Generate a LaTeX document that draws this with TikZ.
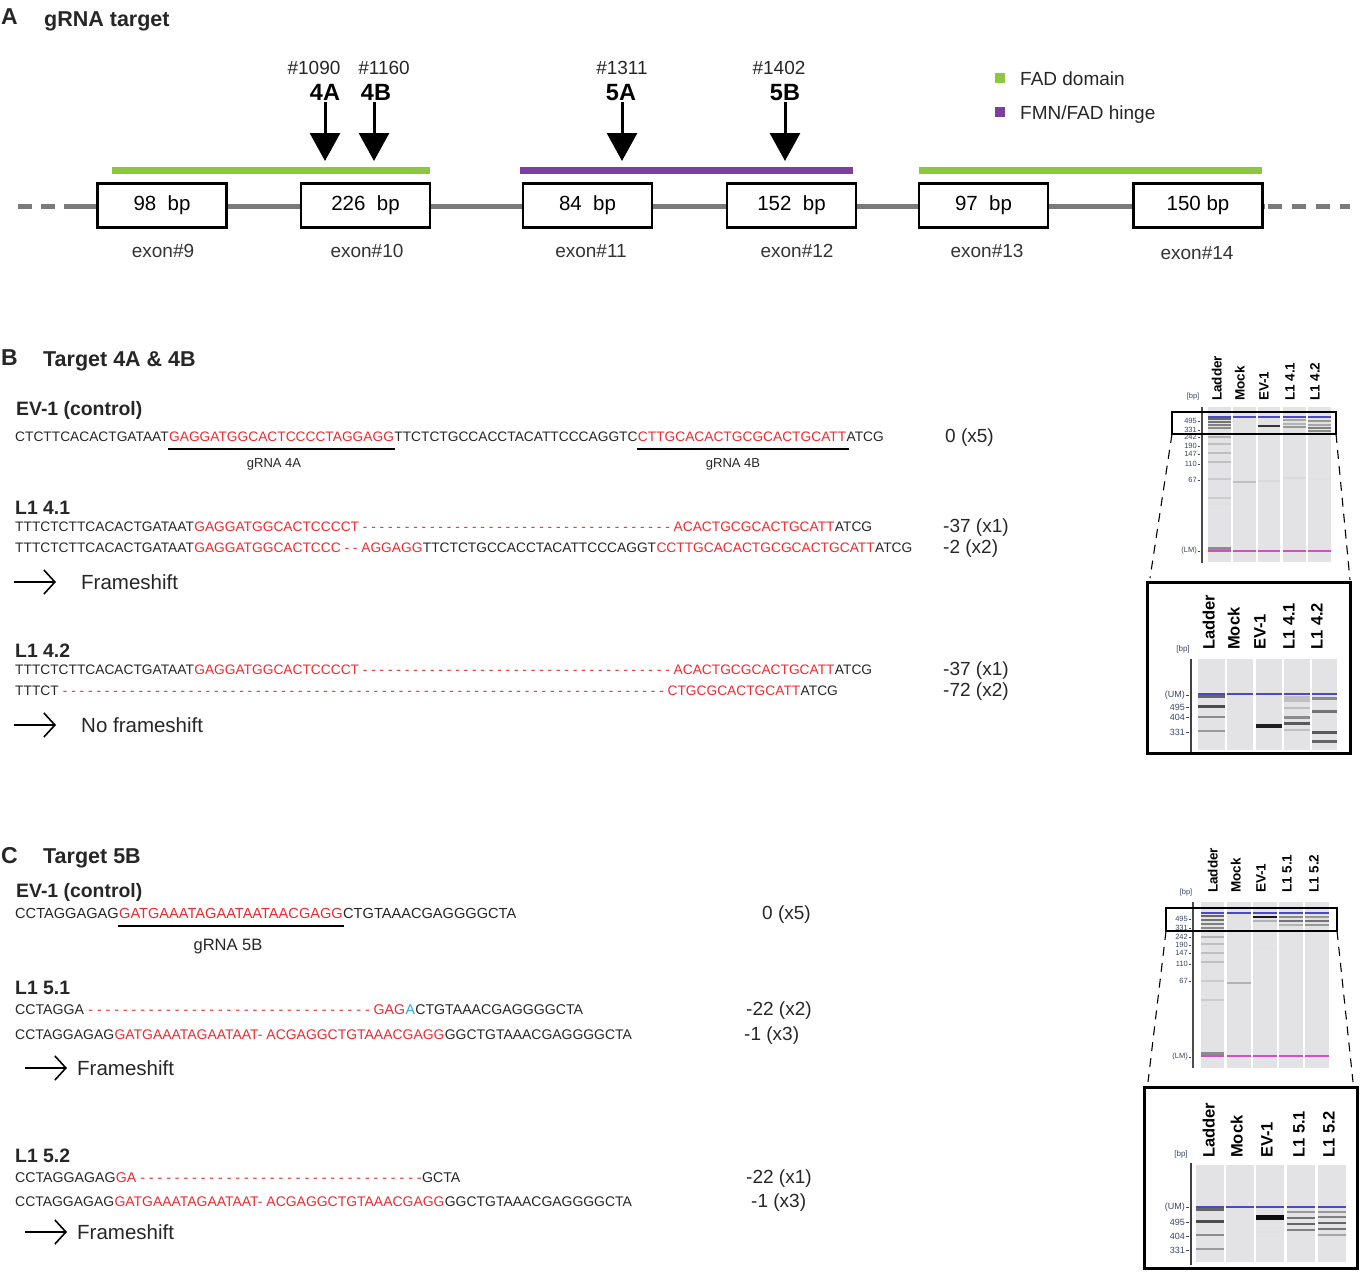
\documentclass[tikz,border=0pt]{standalone}
\usepackage{fontspec}
\setmainfont{Liberation Sans}
\usetikzlibrary{arrows.meta,calc}
\definecolor{seqred}{HTML}{EE2A2F}
\definecolor{seqblue}{HTML}{29A8E0}
\definecolor{fadgreen}{HTML}{8DC63F}
\definecolor{hingepurple}{HTML}{7B3FA0}
\definecolor{bbgray}{HTML}{7A7A7A}
\definecolor{lanegray}{HTML}{E3E3E5}
\definecolor{umblue}{HTML}{4A4AC8}
\definecolor{lmmag}{HTML}{D24FC4}
\definecolor{tickcol}{HTML}{3B4660}
\definecolor{txtgray}{HTML}{333333}
\newcount\dashcnt
\newcommand\dashrun[1]{\dashcnt=#1\relax\loop\ifnum\dashcnt>0 -\ \advance\dashcnt by -1\repeat}
\newcommand\fsz[1]{\fontsize{#1}{#1}\selectfont}
\newcommand\bnd[5]{\draw[line width=#5pt,#4] (#1,#3)--(#2,#3);}
\tikzset{
  seqB/.style={anchor=base west, inner sep=0pt, font=\fsz{13.75}, text=black!85},
  seqC/.style={anchor=base west, inner sep=0pt, font=\fsz{14.15}, text=black!85},
  seqCa/.style={anchor=base west, inner sep=0pt, font=\fsz{14.6}, text=black!85},
  seqCb/.style={anchor=base west, inner sep=0pt, font=\fsz{13.95}, text=black!85},
  rd/.style={text=seqred},
  bl/.style={text=seqblue},
  lbl/.style={anchor=base west, inner sep=0pt, text=black!85},
  head/.style={lbl, font=\bfseries\fsz{21.5}},
  letter/.style={lbl, font=\bfseries\fsz{23}},
  sub/.style={lbl, font=\bfseries\fsz{19.4}},
  cnt/.style={lbl, font=\fsz{19}},
  fs/.style={lbl, font=\fsz{20.5}},
  fsarrow/.style={line width=1.6pt, -{Straight Barb[length=11pt,width=24pt,line width=1.6pt]}},
  exon/.style={draw=black, line width=2.5pt, fill=white, minimum width=129pt, minimum height=44pt, inner sep=0pt, font=\fsz{20.5}},
  exlab/.style={anchor=base, inner sep=0pt, font=\fsz{19}, text=txtgray},
  hit/.style={line width=3pt, -{Triangle[width=30pt,length=28pt]}},
  poslab/.style={anchor=base, inner sep=0pt, font=\fsz{19}, text=black!85},
  sitelab/.style={anchor=base, inner sep=2pt, font=\bfseries\fsz{23.5}},
  tick/.style={anchor=east, inner sep=0pt, font=\fsz{7.5}, text=tickcol},
  tickz/.style={anchor=east, inner sep=0pt, font=\fsz{9}, text=tickcol},
  lane/.style={rotate=90, anchor=mid west, inner sep=0pt, font=\bfseries\fsz{13.5}},
  lanez/.style={rotate=90, anchor=mid west, inner sep=0pt, font=\bfseries\fsz{16.5}},
  gdash/.style={dash pattern=on 9pt off 7pt, line width=1.1pt},
}
\begin{document}
\begin{tikzpicture}[x=1pt,y=-1pt]
\useasboundingbox (0,0) rectangle (1365,1275);
% ================= A =================
\node[letter] (LA) at (1,24) {A};
\node[head] (HA) at (44,26) {gRNA target};
% backbone
\draw[bbgray, line width=5pt, dash pattern=on 14pt off 9pt] (18,206) -- (97,206);
\draw[bbgray, line width=5pt] (75,206) -- (1265,206);
\draw[bbgray, line width=5pt, dash pattern=on 14pt off 10pt] (1268,206) -- (1350,206);
% domain bars
\draw[fadgreen, line width=7pt] (112,170) -- (430,170);
\draw[hingepurple, line width=7pt] (520,170) -- (853,170);
\draw[fadgreen, line width=7pt] (919,170) -- (1262,170);
% exons
\node[exon] (x9)  at (162,205.5)  {98\ \ bp};
\node[exon] (x10) at (365.5,205.5) {226\ \ bp};
\node[exon] (x11) at (587.5,205.5) {84\ \ bp};
\node[exon] (x12) at (791.5,205.5) {152\ \ bp};
\node[exon] (x13) at (983.5,205.5) {97\ \ bp};
\node[exon] (x14) at (1198,205.5) {150 bp};
\node[exlab] (l9)  at (163,257) {exon\#9};
\node[exlab] (l10) at (367,257) {exon\#10};
\node[exlab] (l11) at (591,257) {exon\#11};
\node[exlab] (l12) at (797,257) {exon\#12};
\node[exlab] (l13) at (987,257) {exon\#13};
\node[exlab] (l14) at (1197,259) {exon\#14};
% target sites
\node[poslab] (p1090) at (314,74) {\#1090};
\node[poslab] (p1160) at (384,74) {\#1160};
\node[poslab] (p1311) at (622,74) {\#1311};
\node[poslab] (p1402) at (779,74) {\#1402};
\node[sitelab] (s4A) at (325,100) {4A};
\node[sitelab] (s4B) at (376,100) {4B};
\node[sitelab] (s5A) at (621,100) {5A};
\node[sitelab] (s5B) at (785,100) {5B};
\coordinate (e4A) at (325,161);
\coordinate (e4B) at (374,161);
\coordinate (e5A) at (622,161);
\coordinate (e5B) at (785,161);
\draw[hit] (s4A.south -| e4A) -- (e4A);
\draw[hit] (s4B.south -| e4B) -- (e4B);
\draw[hit] (s5A.south -| e5A) -- (e5A);
\draw[hit] (s5B.south -| e5B) -- (e5B);
% legend
\fill[fadgreen] (995,73) rectangle (1005,83);
\node[cnt] (lg1) at (1020,85) {FAD domain};
\fill[hingepurple] (995,107) rectangle (1005,117);
\node[cnt] (lg2) at (1020,119) {FMN/FAD hinge};
% ================= B =================
\node[letter] (LB) at (1,365) {B};
\node[head] (HB) at (43,366) {Target 4A \& 4B};
\node[sub] (evB) at (16,415) {EV-1 (control)};
\node[seqB] (b1) at (15,441) {CTCTTCACACTGATAAT};
\node[seqB,rd] (b2) at (b1.base east) {GAGGATGGCACTCCCCTAGGAGG};
\node[seqB] (b3) at (b2.base east) {TTCTCTGCCACCTACATTCCCAGGTC};
\node[seqB,rd] (b4) at (b3.base east) {CTTGCACACTGCGCACTGCATT};
\node[seqB] (b5) at (b4.base east) {ATCG};
\draw[line width=2pt] ($(b2.base west)+(-1,8)$) -- ($(b2.base east)+(1,8)$);
\draw[line width=2pt] ($(b4.base west)+(-1,8)$) -- ($(b4.base east)+(3,8)$);
\node[anchor=base, inner sep=0pt, font=\fsz{13}, text=black!85] (g4a) at (274,467) {gRNA 4A};
\node[anchor=base, inner sep=0pt, font=\fsz{13}, text=black!85] (g4b) at (733,467) {gRNA 4B};
\node[cnt] (cB0) at (945,442) {0 (x5)};
% L1 4.1
\node[sub] (l41) at (15,514) {L1 4.1};
\node[seqB] (c1) at (15,531) {TTTCTCTTCACACTGATAAT};
\node[seqB,rd] (c2) at (c1.base east) {GAGGATGGCACTCCCCT\ \dashrun{37}ACACTGCGCACTGCATT};
\node[seqB] (c3) at (c2.base east) {ATCG};
\node[seqB] (d1) at (15,552) {TTTCTCTTCACACTGATAAT};
\node[seqB,rd] (d2) at (d1.base east) {GAGGATGGCACTCCC\ -\ -\ AGGAGG};
\node[seqB] (d3) at (d2.base east) {TTCTCTGCCACCTACATTCCCAGGT};
\node[seqB,rd] (d4) at (d3.base east) {CCTTGCACACTGCGCACTGCATT};
\node[seqB] (d5) at (d4.base east) {ATCG};
\node[cnt] (cB1) at (943,532) {-37 (x1)};
\node[cnt] (cB2) at (943,553) {-2 (x2)};
\node[fs] (fsB1) at (81,589) {Frameshift};
\coordinate (aB1s) at (14,582); \coordinate (aB1e) at (56,582);
\draw[fsarrow] (aB1s) -- (aB1e);
% L1 4.2
\node[sub] (l42) at (15,657) {L1 4.2};
\node[seqB] (e1) at (15,674) {TTTCTCTTCACACTGATAAT};
\node[seqB,rd] (e2) at (e1.base east) {GAGGATGGCACTCCCCT\ \dashrun{37}ACACTGCGCACTGCATT};
\node[seqB] (e3) at (e2.base east) {ATCG};
\node[seqB] (f1) at (15,695) {TTTCT};
\node[seqB,rd] (f2) at (f1.base east) {\ \dashrun{72}CTGCGCACTGCATT};
\node[seqB] (f3) at (f2.base east) {ATCG};
\node[cnt] (cB3) at (943,675) {-37 (x1)};
\node[cnt] (cB4) at (943,696) {-72 (x2)};
\node[fs] (fsB2) at (81,732) {No frameshift};
\coordinate (aB2s) at (14,725); \coordinate (aB2e) at (56,725);
\draw[fsarrow] (aB2s) -- (aB2e);
% ---- gel B top ----
\foreach \a/\b in {1208/1231,1233/1256,1258/1280,1283/1306,1308/1331} \fill[lanegray] (\a,407) rectangle (\b,562);
\draw[line width=1.4pt, black!70] (1202,407) -- (1202,563);
\foreach \y/\t in {421/495,430/331,437/242,446/190,454/147,464/110,480/67,551/{(LM)}} {
  \draw[tickcol, line width=0.6pt] (1197.5,\y)--(1200,\y);
  \node[tick] (tb\y) at (1197,\y) {\t};
}
\node[anchor=base, inner sep=0pt, font=\fsz{7.5}, text=tickcol] (bpB) at (1193,398) {[bp]};
\node[lane] (gbL) at (1219,401) {Ladder};
\node[lane] (gbM) at (1242,401) {Mock};
\node[lane] (gbE) at (1266,401) {EV-1};
\node[lane] (gb1) at (1292,401) {L1 4.1};
\node[lane] (gb2) at (1317,401) {L1 4.2};
\foreach \y/\c in {419/60,422/55,425/50,428/45,437/30,444/25,453/25,462/25,479/20,498/20,504/12} {\bnd{1208}{1231}{\y}{black!\c}{1.6}}
\bnd{1233}{1256}{482}{black!25}{1.6}
\bnd{1258}{1280}{426}{black!80}{2.5}
\bnd{1258}{1280}{481}{black!15}{1.6}
\bnd{1283}{1306}{420}{black!35}{2}
\bnd{1283}{1306}{424}{black!30}{2}
\bnd{1283}{1306}{427}{black!40}{2}
\bnd{1283}{1306}{478}{black!15}{1.6}
\bnd{1308}{1331}{421}{black!40}{1.8}
\bnd{1308}{1331}{425}{black!35}{1.8}
\bnd{1308}{1331}{428}{black!50}{1.8}
\bnd{1308}{1331}{431}{black!45}{1.8}
\bnd{1308}{1331}{479}{black!12}{1.6}
\bnd{1208}{1231}{548}{black!45}{3}
\foreach \a/\b in {1208/1231,1233/1256,1258/1280,1283/1306,1308/1331} {\bnd{\a}{\b}{417}{umblue}{2}\bnd{\a}{\b}{551}{lmmag}{2.2}}
\draw[line width=1.5pt] (1172,412) rectangle (1336,434);
\draw[gdash] (1172,434) -- (1150,578);
\draw[gdash] (1336,434) -- (1350,580);
% ---- gel B zoom ----
\foreach \a/\b in {1198/1225,1227/1253,1256/1282,1284/1310,1312/1337} \fill[lanegray] (\a,659) rectangle (\b,750);
\draw[line width=1.4pt, black!75] (1191,659) -- (1191,752);
\foreach \y/\t in {695/{(UM)},707/495,717/404,732/331} {
  \draw[tickcol, line width=0.6pt] (1185.5,\y)--(1188.5,\y);
  \node[tickz] (tz\y) at (1185,\y) {\t};
}
\node[anchor=base, inner sep=0pt, font=\fsz{8}, text=tickcol] (bpBz) at (1183,651) {[bp]};
\node[lanez] (gzL) at (1212,650) {Ladder};
\node[lanez] (gzM) at (1237,650) {Mock};
\node[lanez] (gzE) at (1263,650) {EV-1};
\node[lanez] (gz1) at (1292,650) {L1 4.1};
\node[lanez] (gz2) at (1320,650) {L1 4.2};
\bnd{1198}{1225}{696}{black!60}{3}
\bnd{1198}{1225}{706}{black!70}{3}
\bnd{1198}{1225}{717}{black!45}{2.5}
\bnd{1198}{1225}{731}{black!40}{2.5}
\bnd{1256}{1282}{726}{black!88}{4}
\bnd{1284}{1310}{699}{black!25}{6}
\bnd{1284}{1310}{708}{black!25}{2}
\bnd{1284}{1310}{717}{black!45}{3}
\bnd{1284}{1310}{723}{black!65}{3}
\bnd{1284}{1310}{730}{black!25}{2}
\bnd{1312}{1337}{698}{black!45}{3}
\bnd{1312}{1337}{711}{black!55}{3}
\bnd{1312}{1337}{732}{black!65}{3}
\bnd{1312}{1337}{741}{black!60}{3}
\foreach \a/\b in {1198/1225,1227/1253,1256/1282,1284/1310,1312/1337} {\bnd{\a}{\b}{694}{umblue}{2}}
\draw[line width=3pt] (1147,582) rectangle (1350,753);
% ================= C =================
\node[letter] (LC) at (1,863) {C};
\node[head] (HC) at (43,863) {Target 5B};
\node[sub] (evC) at (16,897) {EV-1 (control)};
\node[seqCa] (h1) at (15,918) {CCTAGGAGAG};
\node[seqCa,rd] (h2) at (h1.base east) {GATGAAATAGAATAATAACGAGG};
\node[seqCa] (h3) at (h2.base east) {CTGTAAACGAGGGGCTA};
\draw[line width=2pt] ($(h2.base west)+(-1,8)$) -- ($(h2.base east)+(1,8)$);
\node[anchor=base, inner sep=0pt, font=\fsz{16.5}, text=black!85] (g5b) at (228,950) {gRNA 5B};
\node[cnt] (cC0) at (762,919) {0 (x5)};
% L1 5.1
\node[sub] (l51) at (15,994) {L1 5.1};
\node[seqC] (i1) at (15,1014) {CCTAGGA};
\node[seqC,rd] (i2) at (i1.base east) {\ \dashrun{33}GAG};
\node[seqC,bl] (i3) at (i2.base east) {A};
\node[seqC] (i4) at (i3.base east) {CTGTAAACGAGGGGCTA};
\node[seqCb] (j1) at (15,1039) {CCTAGGAGAG};
\node[seqCb,rd] (j2) at (j1.base east) {GATGAAATAGAATAAT-\ ACGAGGCTGTAAACGAGG};
\node[seqCb] (j3) at (j2.base east) {GGCTGTAAACGAGGGGCTA};
\node[cnt] (cC1) at (746,1015) {-22 (x2)};
\node[cnt] (cC2) at (744,1040) {-1 (x3)};
\node[fs] (fsC1) at (77,1075) {Frameshift};
\coordinate (aC1s) at (25,1068); \coordinate (aC1e) at (67,1068);
\draw[fsarrow] (aC1s) -- (aC1e);
% L1 5.2
\node[sub] (l52) at (15,1162) {L1 5.2};
\node[seqC] (k1) at (15,1182) {CCTAGGAGAG};
\node[seqC,rd] (k2) at (k1.base east) {GA\ \dashrun{33}};
\node[seqC] (k3) at (k2.base east) {GCTA};
\node[seqCb] (m1) at (15,1206) {CCTAGGAGAG};
\node[seqCb,rd] (m2) at (m1.base east) {GATGAAATAGAATAAT-\ ACGAGGCTGTAAACGAGG};
\node[seqCb] (m3) at (m2.base east) {GGCTGTAAACGAGGGGCTA};
\node[cnt] (cC3) at (746,1183) {-22 (x1)};
\node[cnt] (cC4) at (751,1207) {-1 (x3)};
\node[fs] (fsC2) at (77,1239) {Frameshift};
\coordinate (aC2s) at (25,1232); \coordinate (aC2e) at (67,1232);
\draw[fsarrow] (aC2s) -- (aC2e);
% ---- gel C top ----
\foreach \a/\b in {1201/1224,1227/1251,1253/1277,1279/1303,1305/1329} \fill[lanegray] (\a,902) rectangle (\b,1068);
\draw[line width=1.4pt, black!70] (1193,902) -- (1193,1068);
\foreach \y/\t in {919/495,928/331,937/242,945/190,953/147,964/110,981/67,1057/{(LM)}} {
  \draw[tickcol, line width=0.6pt] (1188.5,\y)--(1191,\y);
  \node[tick] (tc\y) at (1188,\y) {\t};
}
\node[anchor=base, inner sep=0pt, font=\fsz{7.5}, text=tickcol] (bpC) at (1186,894) {[bp]};
\node[lane] (gcL) at (1215,893) {Ladder};
\node[lane] (gcM) at (1238,893) {Mock};
\node[lane] (gcE) at (1263,893) {EV-1};
\node[lane] (gc1) at (1289,893) {L1 5.1};
\node[lane] (gc2) at (1316,893) {L1 5.2};
\foreach \y/\c in {916/60,920/55,924/50,928/45,937/30,944/25,953/25,962/25,981/20,1000/20,1006/12} {\bnd{1201}{1224}{\y}{black!\c}{1.6}}
\bnd{1227}{1251}{983}{black!30}{1.6}
\bnd{1253}{1277}{917}{black!90}{2.5}
\bnd{1253}{1277}{921}{black!30}{1.6}
\bnd{1253}{1277}{945}{black!10}{1.6}
\bnd{1279}{1303}{917}{black!45}{2}
\bnd{1279}{1303}{921}{black!55}{2}
\bnd{1279}{1303}{925}{black!30}{1.6}
\bnd{1305}{1329}{917}{black!40}{2}
\bnd{1305}{1329}{921}{black!55}{2}
\bnd{1305}{1329}{925}{black!40}{1.6}
\bnd{1201}{1224}{1053}{black!45}{3}
\foreach \a/\b in {1201/1224,1227/1251,1253/1277,1279/1303,1305/1329} {\bnd{\a}{\b}{913}{umblue}{2}\bnd{\a}{\b}{1056}{lmmag}{2.2}}
\draw[line width=1.5pt] (1166,908) rectangle (1337,931);
\draw[gdash] (1166,931) -- (1148,1082);
\draw[gdash] (1337,931) -- (1353,1082);
% ---- gel C zoom ----
\foreach \a/\b in {1196/1224,1226/1254,1256/1284,1287/1315,1318/1346} \fill[lanegray] (\a,1165) rectangle (\b,1262);
\draw[line width=1.4pt, black!75] (1191,1163) -- (1191,1265);
\foreach \y/\t in {1207/{(UM)},1222/495,1236/404,1250/331} {
  \draw[tickcol, line width=0.6pt] (1185.5,\y)--(1188.5,\y);
  \node[tickz] (tzc\y) at (1185,\y) {\t};
}
\node[anchor=base, inner sep=0pt, font=\fsz{8}, text=tickcol] (bpCz) at (1181,1156) {[bp]};
\node[lanez] (gyL) at (1212,1158) {Ladder};
\node[lanez] (gyM) at (1240,1158) {Mock};
\node[lanez] (gyE) at (1270,1158) {EV-1};
\node[lanez] (gy1) at (1302,1158) {L1 5.1};
\node[lanez] (gy2) at (1332,1158) {L1 5.2};
\bnd{1196}{1224}{1209}{black!60}{3}
\bnd{1196}{1224}{1221}{black!70}{3}
\bnd{1196}{1224}{1235}{black!45}{2.5}
\bnd{1196}{1224}{1249}{black!40}{2.5}
\bnd{1256}{1284}{1217}{black!95}{5}
\bnd{1256}{1284}{1232}{black!12}{2}
\bnd{1287}{1315}{1212}{black!40}{2.5}
\bnd{1287}{1315}{1218}{black!55}{2.5}
\bnd{1287}{1315}{1224}{black!60}{2.5}
\bnd{1287}{1315}{1230}{black!50}{2.5}
\bnd{1318}{1346}{1212}{black!40}{2.5}
\bnd{1318}{1346}{1217}{black!50}{2.5}
\bnd{1318}{1346}{1223}{black!60}{2.5}
\bnd{1318}{1346}{1229}{black!55}{2.5}
\bnd{1318}{1346}{1235}{black!35}{2}
\foreach \a/\b in {1196/1224,1226/1254,1256/1284,1287/1315,1318/1346} {\bnd{\a}{\b}{1207}{umblue}{2}}
\draw[line width=3pt] (1144,1087) rectangle (1357,1268);
\end{tikzpicture}
\end{document}
